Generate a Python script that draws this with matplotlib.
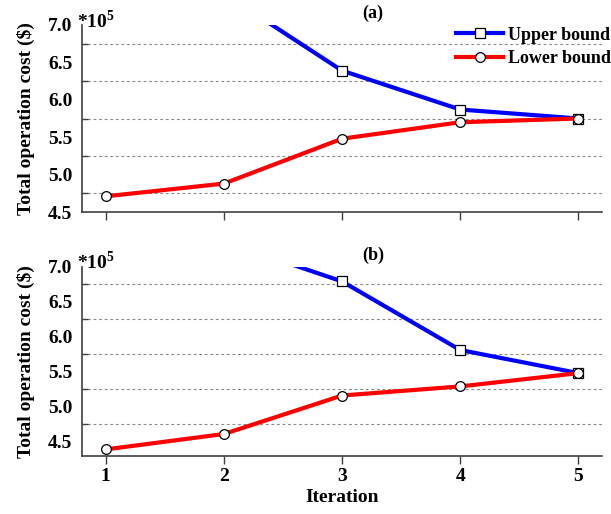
import matplotlib
matplotlib.use("Agg")
import matplotlib.pyplot as plt

plt.rcParams['font.family'] = ['Liberation Serif', 'DejaVu Serif']
plt.rcParams['font.weight'] = 'bold'
plt.rcParams['mathtext.fontset'] = 'custom'
plt.rcParams['mathtext.rm'] = 'Liberation Serif:bold'

# Iterations and bound values (in units of 1e5 $)
iterations = [1, 2, 3, 4, 5]
upper_a = [8.20, 7.42, 6.39, 5.87, 5.75]
lower_a = [4.71, 4.88, 5.48, 5.70, 5.75]
upper_b = [8.00, 7.36, 6.79, 5.81, 5.48]
lower_b = [4.39, 4.61, 5.16, 5.29, 5.48]

yticks = [4.5, 5.0, 5.5, 6.0, 6.5, 7.0]
grid_levels = [4.75, 5.25, 5.75, 6.25, 6.75]
panel_labels = ['(a)', '(b)']
ylims = [(4.5, 7.0), (4.3, 7.0)]

fig = plt.figure(figsize=(6.11, 5.14), dpi=100)
ax_a = fig.add_axes([0.1342, 0.5875, 0.8511, 0.3639])
ax_b = fig.add_axes([0.1342, 0.1134, 0.8511, 0.3677])

blue = '#0000ff'
red = '#ff0000'
spine_c = '#404040'
fs = 14

for ax, up, lo, lab, yl in zip([ax_a, ax_b], [upper_a, upper_b], [lower_a, lower_b],
                               panel_labels, ylims):
    ax.plot(iterations, up, color=blue, lw=3, marker='s', ms=6.5,
            mfc='white', mec='black', mew=0.9, zorder=3, label='Upper bound')
    ax.plot(iterations, lo, color=red, lw=3, marker='o', ms=7,
            mfc='white', mec='black', mew=0.9, zorder=4, label='Lower bound')
    ax.set_xlim(0.8, 5.2)
    ax.set_ylim(*yl)
    ax.set_xticks(iterations)
    ax.set_yticks(yticks)
    ax.set_yticklabels([f'{v:.1f}' for v in yticks])
    ax.set_yticks(grid_levels, minor=True)
    ax.grid(which='minor', axis='y', color='#888888', ls=(0, (2.5, 2.5)), lw=0.8)
    ax.tick_params(axis='y', which='major', length=0, pad=7, labelsize=fs)
    ax.tick_params(axis='y', which='minor', direction='in', length=4,
                   color=spine_c, width=1)
    ax.tick_params(axis='x', which='major', direction='out', length=6,
                   color=spine_c, width=1, labelsize=fs, pad=3)
    for s in ['top', 'right']:
        ax.spines[s].set_visible(False)
    for s in ['left', 'bottom']:
        ax.spines[s].set_color(spine_c)
        ax.spines[s].set_linewidth(1.2)
    ax.set_ylabel('Total operation cost ($)', fontsize=fs, fontweight='bold', labelpad=9)
    ax.text(0.56, 1.015, lab, transform=ax.transAxes, ha='center', va='bottom',
            fontsize=13, fontweight='bold')
    ax.text(-0.01, 0.985, r'*10$^{5}$', transform=ax.transAxes, ha='left',
            va='baseline', fontsize=fs, fontweight='bold')

ax_a.tick_params(axis='x', labelbottom=False)
ax_b.set_xlabel('Iteration', fontsize=fs, fontweight='bold', labelpad=3)

ax_a.legend(loc='upper right', bbox_to_anchor=(1.02, 1.0), frameon=False,
            fontsize=13, handlelength=2.6, handletextpad=0.25, labelspacing=0.35,
            borderaxespad=0.0, borderpad=0.1)

fig.savefig('out.png', dpi=100)
